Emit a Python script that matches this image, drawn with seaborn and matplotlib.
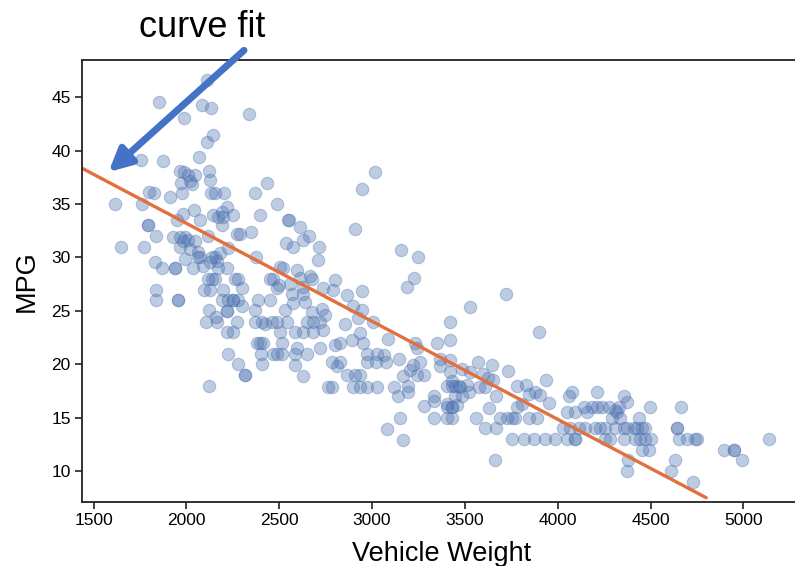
import numpy as np
import pandas as pd
import seaborn as sns
import matplotlib.pyplot as plt

# values, grouped roughly by mpg row
weight = [
    2110, 1850, 2085, 2130, 2335, 1985, 2144, 2110, 2070, 1755, 1875,
    1965, 1985, 2010, 2045, 2123, 3015,
    1970, 2020, 2030, 2128, 2435,
    1796, 1825, 1913, 1977, 2130, 2153, 2202, 2369, 2948,
    1613, 1758, 2490,
    1979, 2042, 2144, 2190, 2217, 2249, 2396, 1947, 2073, 2171, 2198, 2190, 2549, 2554,
    1794, 1794, 2612, 2908,
    1835, 1929, 1965, 1992, 2009, 2046, 2116, 2270, 2288, 2346, 2662,
    1648, 1772, 1965, 1983, 2019, 2063, 2225, 2535, 2572, 2630, 2716,
    2180, 2153, 2163, 2372, 2073, 2136, 2063, 2707, 3158, 3248,
    2504, 1830, 1866, 1938, 1938, 1992, 2036, 2090, 2127, 2171, 2217, 2522, 2594,
    2117, 2136, 2153, 2261, 2279, 2465, 2450, 2500, 2666, 2612, 2675, 2800, 3226,
    2094, 2127, 2198, 2297, 2486, 1835, 2558, 2630, 2737, 2791, 3187, 2948,
    1835, 1955, 1955, 2190, 2225, 2252, 2252, 2279, 2297, 2387, 2450, 2567, 2630,
    2867, 3723, 2576, 2639,
    2220, 2220, 2123, 2159, 2369, 2531, 2675, 2729, 2747, 2899, 2944, 3529,
    2105, 2163, 2274, 2369, 2405, 2423, 2459, 2486, 2540, 2684, 2648, 2720, 2854,
    2926, 3007, 3421,
    2217, 2252, 2504, 2585, 2630, 2684, 2738, 2935, 3897,
    2378, 2396, 2414, 2513, 2827, 2890, 2953, 3088, 3232, 3349, 3421,
    2486, 2225, 2401, 2594, 2648, 2585, 2513, 2468, 2720, 2800, 2974, 3028, 3064, 3241,
    2279, 2405, 2782, 2827, 2809, 2585, 3145, 3073, 3019, 2974, 3223, 3259, 3367,
    3421, 3367, 3568, 3645, 3205,
    2315, 2315, 2630, 2864, 2908, 2935, 3241, 3277, 3169, 3421, 3484, 3732, 3529,
    3600, 3627, 3654,
    2123, 2899, 2935, 2971, 3025, 2764, 2782, 3118, 3196, 3430, 3448, 3430, 3466,
    3403, 3511, 3475, 3574, 3609, 3780, 3829, 3938,
    3142, 3196, 3331, 3484, 3448, 3520, 3669, 3879, 3906, 3843, 4077, 4059, 4211, 4355,
    3277, 3403, 3457, 3331, 3403, 3430, 3430, 3807, 3951, 4373, 3780, 4139, 4184,
    4211, 4274, 4328, 4495, 4666, 4238,
    4050, 4095, 4157, 4319, 4310,
    3331, 3403, 3430, 3151, 3561, 3631, 3690, 3726, 3753, 3771, 3843, 3888, 4439,
    4337, 4292,
    3083, 3606, 3669, 4031, 4067, 4112, 4148, 4202, 4229, 4256, 4310, 4355, 4373,
    4409, 4427, 4454, 4472, 4643, 4643,
    3166, 3753, 3816, 3870, 3933, 3987, 4050, 4095, 4095, 4256, 4283, 4355, 4418,
    4445, 4470, 4505, 4652, 4697, 4742, 4751, 5137,
    4454, 4490, 4898, 4948, 4948,
    3663, 4377, 4634, 4993,
    4373, 4612,
    4729,
]
mpg = [
    46.6, 44.6, 44.3, 44.0, 43.4, 43.1, 41.5, 40.8, 39.4, 39.1, 39.0,
    38.1, 38.0, 37.7, 37.7, 38.1, 38.0,
    37.0, 37.2, 36.9, 37.3, 37.0,
    36.1, 36.0, 35.7, 36.0, 36.0, 36.0, 36.0, 36.0, 36.4,
    35.0, 35.0, 35.0,
    34.1, 34.4, 34.0, 34.3, 34.7, 34.0, 34.0, 33.5, 33.5, 33.8, 33.8, 33.0, 33.5, 33.5,
    33.0, 33.0, 32.9, 32.7,
    32.0, 31.9, 31.9, 31.9, 31.6, 31.5, 32.0, 32.2, 32.2, 32.4, 32.0,
    31.0, 31.0, 31.0, 31.5, 30.8, 30.5, 30.9, 31.4, 31.0, 31.6, 31.0,
    30.4, 30.0, 29.7, 30.0, 30.0, 30.0, 30.0, 29.8, 30.7, 30.0,
    29.1, 29.6, 29.0, 29.0, 29.0, 29.9, 29.0, 29.2, 29.6, 29.0, 29.0, 29.0, 28.8,
    28.0, 28.0, 28.0, 28.0, 28.0, 28.0, 28.0, 27.4, 28.3, 28.1, 28.0, 27.9, 28.1,
    27.0, 27.0, 27.0, 27.1, 27.1, 27.0, 27.5, 27.2, 27.1, 27.0, 27.2, 26.9,
    26.0, 26.0, 26.0, 26.0, 26.0, 26.0, 26.0, 26.0, 25.5, 26.0, 26.0, 26.6, 26.6,
    26.5, 26.6, 25.7, 25.8,
    25.0, 25.0, 25.1, 24.4, 25.1, 25.1, 24.9, 25.2, 24.6, 25.5, 25.1, 25.4,
    24.0, 24.0, 24.0, 24.0, 24.0, 23.8, 24.0, 24.0, 24.0, 24.0, 24.0, 24.0, 23.8,
    24.3, 24.0, 24.0,
    23.0, 23.0, 23.0, 23.0, 23.0, 23.0, 23.2, 22.9, 23.0,
    22.0, 22.0, 22.0, 22.0, 22.0, 22.3, 22.0, 22.4, 22.0, 22.0, 22.3,
    21.0, 21.0, 21.0, 21.5, 21.0, 21.0, 21.0, 21.0, 21.5, 21.8, 21.0, 21.0, 20.9, 21.5,
    20.0, 20.0, 20.2, 20.2, 19.8, 19.9, 20.5, 20.2, 20.2, 20.2, 19.9, 20.2, 20.5,
    20.4, 19.8, 20.2, 19.9, 19.5,
    19.0, 19.0, 18.9, 19.0, 19.0, 19.0, 19.0, 19.0, 18.9, 19.3, 19.6, 19.4, 19.3,
    19.1, 18.7, 18.5,
    18.0, 17.9, 17.9, 17.9, 17.9, 17.9, 17.9, 17.9, 18.0, 18.4, 18.0, 18.0, 18.0,
    18.0, 18.1, 17.9, 17.9, 17.9, 18.0, 18.1, 18.5,
    17.0, 17.4, 17.0, 17.0, 17.0, 17.4, 17.0, 17.4, 17.1, 17.2, 17.4, 17.0, 17.4, 17.0,
    16.1, 16.3, 16.2, 16.6, 16.0, 16.0, 16.0, 16.3, 16.4, 16.5, 16.0, 16.0, 16.0,
    16.0, 16.0, 16.0, 16.0, 16.0, 16.0,
    15.5, 15.5, 15.5, 15.5, 15.7,
    15.0, 15.0, 15.0, 15.0, 15.0, 15.9, 15.0, 15.0, 15.0, 15.0, 15.0, 15.0, 15.0,
    15.0, 15.0,
    13.9, 14.0, 14.0, 14.0, 14.0, 14.0, 14.0, 14.0, 14.0, 14.0, 14.0, 14.0, 14.0,
    14.0, 14.0, 14.0, 14.0, 14.0, 14.0,
    12.9, 13.0, 13.0, 13.0, 13.0, 13.0, 13.0, 13.0, 13.0, 13.0, 13.0, 13.0, 13.0,
    13.0, 13.0, 13.0, 13.0, 13.0, 13.0, 13.0, 13.0,
    12.0, 12.0, 12.0, 12.0, 12.0,
    11.0, 11.0, 11.0, 11.0,
    10.0, 10.0,
    9.0,
]

# hand drawn fit line
fit_weight = [1400, 4800]
fit_mpg = [38.7, 7.5]

df = pd.DataFrame({'weight': weight, 'mpg': mpg})

sns.set_style('ticks')
plt.rcParams['font.family'] = ['Liberation Sans', 'DejaVu Sans']
plt.rcParams['text.color'] = 'black'
plt.rcParams['axes.labelcolor'] = 'black'
plt.rcParams['xtick.color'] = 'black'
plt.rcParams['ytick.color'] = 'black'

fig = plt.figure(figsize=(7.95, 5.66), dpi=100)
ax = fig.add_axes([0.1031, 0.1131, 0.9057, 0.781])

sns.scatterplot(data=df, x='weight', y='mpg', ax=ax, s=80, color='#4C72B0',
                alpha=0.36, edgecolor='#4C72B0', linewidth=0.8)
sns.lineplot(x=fit_weight, y=fit_mpg, ax=ax, color='#E2703F', linewidth=2.4)

ax.set_xlim(1437, 5316)
ax.set_ylim(7.1, 48.5)
ax.set_xticks([1500, 2000, 2500, 3000, 3500, 4000, 4500, 5000])
ax.set_yticks([10, 15, 20, 25, 30, 35, 40, 45])
ax.tick_params(labelsize=12.5, length=5, width=1.2, color='#222222', pad=3)
for s in ax.spines.values():
    s.set_linewidth(1.3)
    s.set_color('#222222')

ax.set_xlabel('Vehicle Weight', fontsize=19.5, labelpad=9)
ax.set_ylabel('MPG', fontsize=19.5, labelpad=8)

# arrow pointing at the fit line
ax.annotate('', xy=(1580, 38.0), xytext=(2310, 49.4), annotation_clip=False,
            arrowprops=dict(arrowstyle='-|>', color='#4472C4', lw=5,
                            mutation_scale=34, shrinkA=0, shrinkB=0))
fig.text(0.254, 0.951, 'curve fit', fontsize=26, ha='center', va='center')

fig.savefig('out.png', dpi=100)
